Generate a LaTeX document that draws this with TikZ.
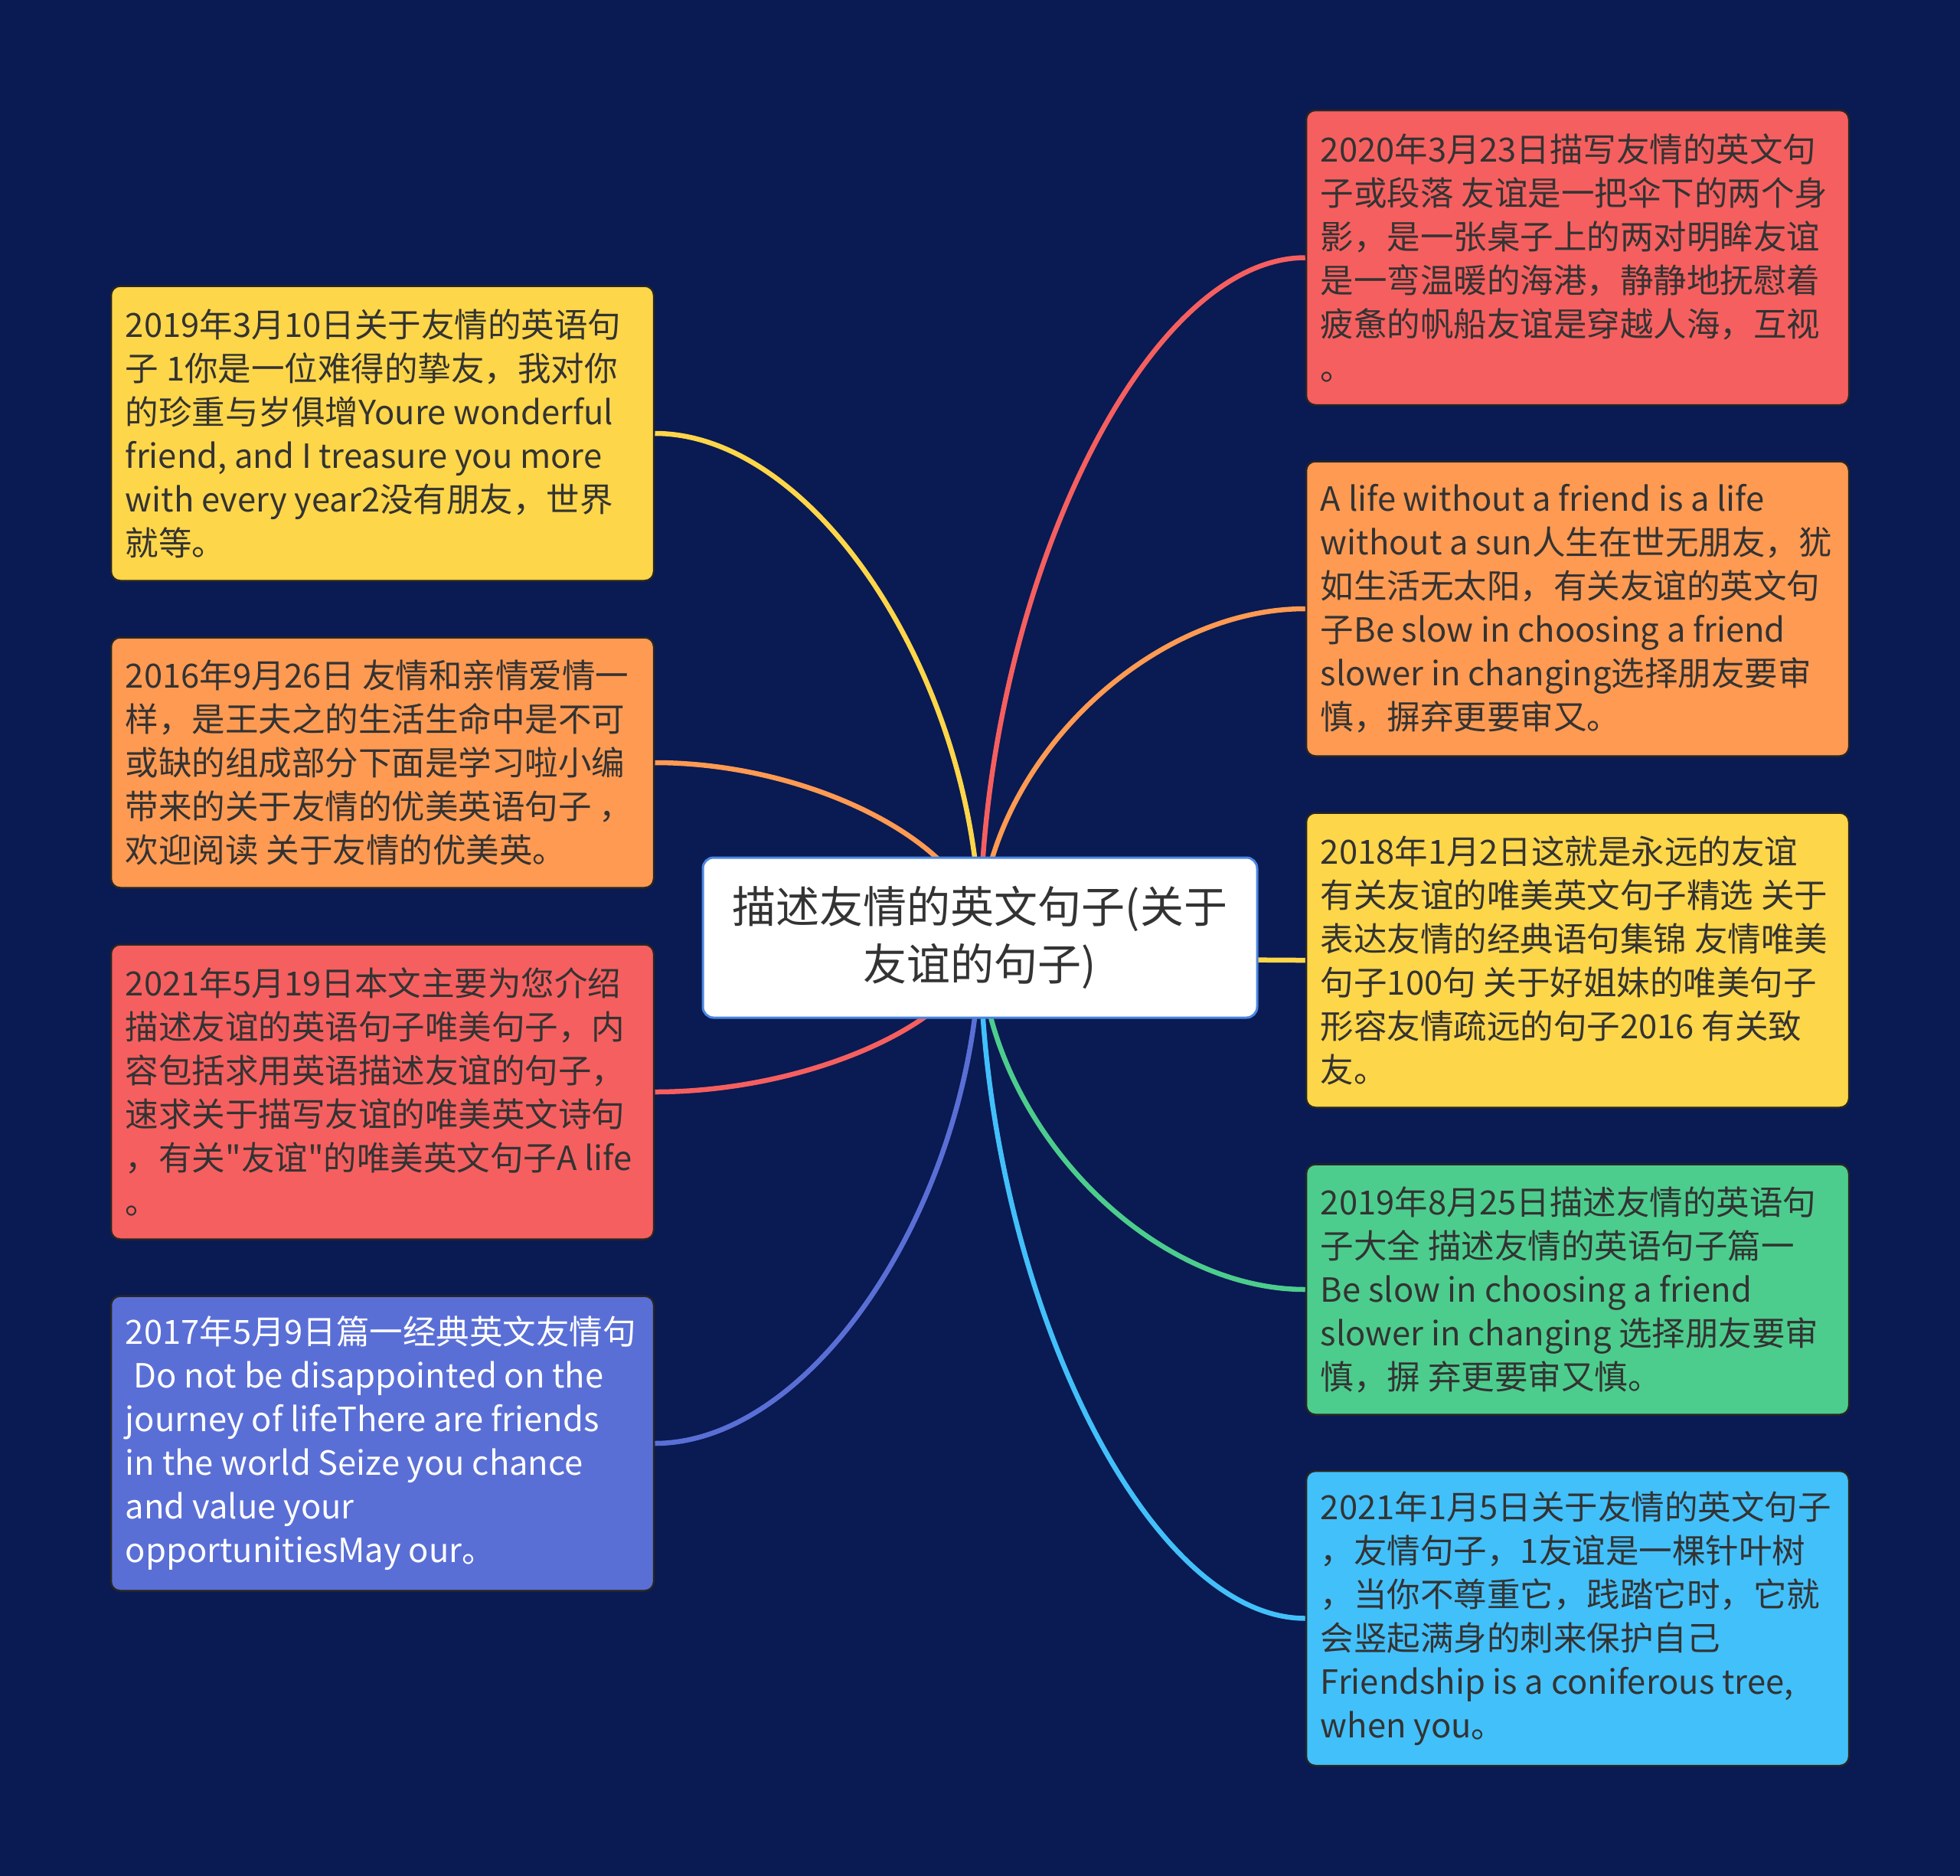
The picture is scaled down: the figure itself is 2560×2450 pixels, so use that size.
\documentclass[tikz,border=0pt]{standalone}
\usepackage{fontspec}
\newfontfamily\cjk{Noto Sans CJK SC}
\usetikzlibrary{calc}
\definecolor{bgnavy}{HTML}{0A1A52}
\definecolor{cyellow}{HTML}{FED649}
\definecolor{corange}{HTML}{FE9A52}
\definecolor{cred}{HTML}{F65F5F}
\definecolor{cindigo}{HTML}{5A6FD6}
\definecolor{cgreen}{HTML}{4CCD8D}
\definecolor{csky}{HTML}{42C0FA}
\definecolor{ctext}{HTML}{333333}
\definecolor{cborder}{HTML}{4A86E0}
\pgfdeclarelayer{bg}
\pgfsetlayers{bg,main}
\newcommand\mmlink[2]{%
  \draw[link,#1] (c.center) .. controls ($(c.center)!0.5!(c.center|-#2)$) and ($(#2)!0.5!(c.center|-#2)$) .. (#2);}
\begin{document}
\begin{tikzpicture}[x=1pt,y=-1pt,
  box/.style={rectangle,rounded corners=12pt,draw=black!85,line width=2.5pt,minimum width=709pt,inner sep=0pt},
  txt/.style={anchor=west,inner sep=0pt,align=left,text=ctext,font=\cjk\fontsize{43.5}{57}\selectfont},
  link/.style={line width=6.5pt},
  root/.style={rectangle,rounded corners=14pt,draw=cborder,line width=3pt,fill=white,minimum width=724pt,minimum height=209pt,align=center,text=ctext,font=\cjk\fontsize{57}{75}\selectfont}]
\begin{pgfonlayer}{bg}
\fill[bgnavy] (0,0) rectangle (2560,2450);
\end{pgfonlayer}
\useasboundingbox (0,0) rectangle (2560,2450);

\node[root] (c) at (1280,1224.5) {描述友情的英文句子(关于\\友谊的句子)};

% left boxes
\node[box,fill=cyellow,minimum height=385pt] (l1) at (499.5,566) {};
\node[txt] (l1t) at ([xshift=20pt]l1.west) {2019年3月10日关于友情的英语句\\子 1你是一位难得的挚友，我对你\\的珍重与岁俱增Youre wonderful\\friend, and I treasure you more\\with every year2没有朋友，世界\\就等。};

\node[box,fill=corange,minimum height=327pt] (l2) at (499.5,996) {};
\node[txt] (l2t) at ([xshift=20pt]l2.west) {2016年9月26日 友情和亲情爱情一\\样，是王夫之的生活生命中是不可\\或缺的组成部分下面是学习啦小编\\带来的关于友情的优美英语句子 ，\\欢迎阅读 关于友情的优美英。};

\node[box,fill=cred,minimum height=385pt] (l3) at (499.5,1426) {};
\node[txt] (l3t) at ([xshift=20pt]l3.west) {2021年5月19日本文主要为您介绍\\描述友谊的英语句子唯美句子，内\\容包括求用英语描述友谊的句子，\\速求关于描写友谊的唯美英文诗句\\，有关"友谊"的唯美英文句子A life\\。};

\node[box,fill=cindigo,minimum height=385pt] (l4) at (499.5,1885) {};
\node[txt,text=white] (l4t) at ([xshift=20pt]l4.west) {2017年5月9日篇一经典英文友情句\\\hspace*{0.25em}Do not be disappointed on the\\journey of lifeThere are friends\\in the world Seize you chance\\and value your\\opportunitiesMay our。};

% right boxes
\node[box,fill=cred,minimum height=385pt] (r1) at (2060.5,336.5) {};
\node[txt] (r1t) at ([xshift=20pt]r1.west) {2020年3月23日描写友情的英文句\\子或段落 友谊是一把伞下的两个身\\影，是一张桌子上的两对明眸友谊\\是一弯温暖的海港，静静地抚慰着\\疲惫的帆船友谊是穿越人海，互视\\。};

\node[box,fill=corange,minimum height=385pt] (r2) at (2060.5,795) {};
\node[txt] (r2t) at ([xshift=20pt]r2.west) {A life without a friend is a life\\without a sun人生在世无朋友，犹\\如生活无太阳，有关友谊的英文句\\子Be slow in choosing a friend\\slower in changing选择朋友要审\\慎，摒弃更要审又。};

\node[box,fill=cyellow,minimum height=385pt] (r3) at (2060.5,1254) {};
\node[txt] (r3t) at ([xshift=20pt]r3.west) {2018年1月2日这就是永远的友谊\\有关友谊的唯美英文句子精选 关于\\表达友情的经典语句集锦 友情唯美\\句子100句 关于好姐妹的唯美句子\\形容友情疏远的句子2016 有关致\\友。};

\node[box,fill=cgreen,minimum height=327pt] (r4) at (2060.5,1684) {};
\node[txt] (r4t) at ([xshift=20pt]r4.west) {2019年8月25日描述友情的英语句\\子大全 描述友情的英语句子篇一\\Be slow in choosing a friend\\slower in changing 选择朋友要审\\慎，摒 弃更要审又慎。};

\node[box,fill=csky,minimum height=385pt] (r5) at (2060.5,2113.5) {};
\node[txt] (r5t) at ([xshift=20pt]r5.west) {2021年1月5日关于友情的英文句子\\，友情句子，1友谊是一棵针叶树\\，当你不尊重它，践踏它时，它就\\会竖起满身的刺来保护自己\\Friendship is a coniferous tree,\\when you。};

\begin{pgfonlayer}{bg}
\mmlink{cyellow}{l1.east}
\mmlink{corange}{l2.east}
\mmlink{cred}{l3.east}
\mmlink{cindigo}{l4.east}
\mmlink{cred}{r1.west}
\mmlink{corange}{r2.west}
\mmlink{cyellow}{r3.west}
\mmlink{cgreen}{r4.west}
\mmlink{csky}{r5.west}
\end{pgfonlayer}
\end{tikzpicture}
\end{document}
